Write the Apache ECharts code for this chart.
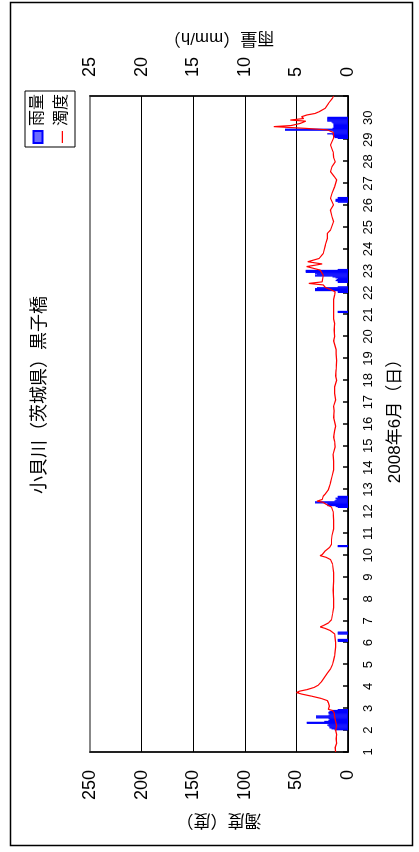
<!DOCTYPE html>
<html><head><meta charset="utf-8">
<script src="https://cdn.jsdelivr.net/npm/echarts@6.0.0/dist/echarts.min.js"></script>
<style>
html,body{margin:0;padding:0;background:#fff;overflow:hidden;width:419px;height:852px}
#wrap{position:absolute;left:0;top:0;width:852px;height:419px;transform-origin:0 0;transform:translateY(852px) rotate(-90deg);}
</style></head><body><div id="wrap"></div>
<script>
// ---- data ----
const titleText = '小貝川（茨城県）黒子橋';
const xName = '2008年6月（日）';
const leftName = '濁度（度）';
const rightName = '雨量（mm/h）';
const dayTicks = [1,2,3,4,5,6,7,8,9,10,11,12,13,14,15,16,17,18,19,20,21,22,23,24,25,26,27,28,29,30];

// rainfall: hour index counted from 2008-06-01 00:00, value mm/h
const rainHour = [24,25,26,27,28,29,30,31,32,33,34,35,36,37,38,39,40,41,42,43,44,45,46,
  121,122,123,129,130,131,
  225,226,
  268,269,270,271,272,273,274,275,276,277,278,279,280,
  482,483,
  504,505,506,507,508,509,510,515,516,517,518,519,520,521,522,523,524,525,526,527,528,529,
  603,604,605,606,607,608,
  673,674,675,676,677,678,679,680,681,682,683,684,685,686,687,688,689,690,691,692,693,694,695,696];
const rainValue = [1.3,1.6,1.8,1.8,1.9,2.0,1.9,4.0,4.0,2.3,1.9,1.8,1.9,3.1,3.1,3.1,1.9,1.8,1.9,1.9,1.8,1.5,1.0,
  1.0,1.0,1.0,1.0,1.0,1.0,
  1.0,1.0,
  1.0,1.2,2.0,2.0,2.0,3.2,3.2,1.3,1.2,1.1,1.2,1.0,1.0,
  1.0,1.0,
  1.0,1.0,3.2,3.2,3.2,3.0,1.0,1.0,1.0,1.2,1.1,1.0,1.2,1.5,3.2,3.2,3.0,3.2,4.1,4.1,4.1,1.0,
  1.0,1.2,1.2,1.2,1.0,1.0,
  1.0,1.3,1.4,1.4,1.5,2.0,1.4,1.4,1.5,6.1,6.1,1.5,1.4,1.4,1.4,1.4,1.4,1.5,1.6,2.0,2.0,2.0,2.0,2.0];

// turbidity: time in days (1.0 = 6/1 00:00), value in 度
const turbDay = [1.0,1.2,1.4,1.6,1.8,2.0,2.2,2.4,2.6,2.8,2.9,2.95,3.1,3.25,3.35,3.45,3.55,3.65,3.72,3.78,3.85,3.95,4.05,4.2,4.4,4.6,4.8,5.0,5.2,5.4,5.6,5.8,6.0,6.2,6.4,6.55,6.65,6.72,6.78,6.9,7.05,7.3,7.6,8.0,8.4,8.8,9.2,9.6,9.8,9.9,9.98,10.03,10.08,10.12,10.2,10.35,10.5,10.7,10.9,11.2,11.6,12.0,12.2,12.35,12.42,12.47,12.55,12.62,12.7,12.8,13.0,13.3,13.6,13.9,14.3,14.6,14.95,15.2,15.4,15.7,15.9,16.3,16.6,16.8,17.1,17.4,17.7,18.0,18.2,18.5,18.9,19.2,19.4,19.8,20.0,20.3,20.6,20.8,21.0,21.2,21.5,21.7,21.9,22.05,22.15,22.25,22.36,22.43,22.5,22.58,22.8,23.04,23.2,23.27,23.32,23.42,23.57,23.8,24.18,24.49,24.72,24.87,25.25,25.48,25.79,26.02,26.32,26.55,26.85,27.16,27.3,27.54,27.77,27.99,28.2,28.45,28.76,29.07,29.2,29.34,29.45,29.52,29.6,29.65,29.75,29.85,29.9,29.97,30.05,30.13,30.2,30.28,30.44,30.66,30.9,31.0];
const turbValue = [12,12.5,11,11.5,11,12,11,12,13,13.5,15,19,18,19,20,26,35,45,50,47,40,33,29,26,23,20,17,15,14,13,12.5,12,12,12.5,13,17,22,27,24,19,16,15,14,14,14.5,14,14,15,17,21,27,25,24,25,22,18,16,16,15.5,14,14,14.5,16,22,24,30,25,26,24,22,19,17,15.5,14,14,14.5,12.5,13,14,13,12,14,13.5,14,12,13,13,11,12,11.5,11,11.5,11.5,14,13,13.5,13,14,14,14,14,14,13,12.5,17,22,24,38,25,26,24,27,40,31,25,39,28,24,22,20,20,17,14,15.5,17,14,17,15.5,13,11,13,17,15.5,12.3,14,14.5,17,14,14,14.5,20,41,72,55,46,41,56,43,45,40,32,28,22,19,15,14];

// ---- build ----
const FONT = "'Liberation Sans', 'Noto Sans CJK JP', sans-serif";
const rainData = rainHour.map((h, i) => [1 + (h + 0.5) / 24, rainValue[i]]);
const turbData = turbDay.map((d, i) => [d, turbValue[i]]);

const chart = echarts.init(document.getElementById('wrap'), null, {renderer: 'canvas', width: 852, height: 419});
chart.setOption({
  animation: false,
  backgroundColor: '#fff',
  textStyle: {fontFamily: FONT, color: '#000'},
  title: {
    text: titleText, left: 452, top: 26, textAlign: 'center',
    textStyle: {fontSize: 18, fontWeight: 'normal', color: '#000', fontFamily: FONT}
  },
  legend: {
    orient: 'vertical', left: 705, top: 25, padding: [5, 3, 5, 3], itemGap: 8,
    itemWidth: 12, itemHeight: 9, borderColor: '#000', borderWidth: 1,
    textStyle: {fontSize: 16, color: '#000', fontFamily: FONT},
    data: [
      {name: '雨量', icon: 'rect', itemStyle: {color: '#6b6bff', borderColor: '#0000ff', borderWidth: 2}},
      {name: '濁度', icon: 'path://M0,0H12V0.02H0Z M0,4.2H12V5.4H0Z M0,9H12V9.02H0Z', itemStyle: {color: '#ff0000'}}
    ]
  },
  grid: {left: 100, right: 96, top: 90, bottom: 71, show: true, borderColor: '#888', borderWidth: 2, backgroundColor: 'transparent'},
  xAxis: {
    type: 'value', min: 1, max: 31, interval: 1,
    name: xName, nameLocation: 'middle', nameGap: 39,
    nameTextStyle: {fontSize: 17, color: '#000', fontFamily: FONT, padding: [0, 0, 0, 14]},
    axisLine: {lineStyle: {color: '#000', width: 1.5}},
    axisTick: {inside: true, length: 5, lineStyle: {color: '#000', width: 1.5}},
    axisLabel: {fontSize: 13, margin: 14, color: '#000', fontFamily: FONT,
      formatter: v => dayTicks.indexOf(v) >= 0 ? String(v) : ''},
    splitLine: {show: false}
  },
  yAxis: [
    {
      type: 'value', min: 0, max: 250, interval: 50, position: 'left',
      name: leftName, nameLocation: 'middle', nameRotate: 90, nameGap: 51,
      nameTextStyle: {fontSize: 17, color: '#000', fontFamily: FONT},
      axisLine: {show: true, lineStyle: {color: '#000', width: 1.5}},
      axisTick: {show: false},
      axisLabel: {fontSize: 18, margin: 18, color: '#000', fontFamily: FONT},
      splitLine: {show: true, lineStyle: {color: ['#000', '#000', '#000', '#000', '#000', '#888'], width: 1.2}}
    },
    {
      type: 'value', min: 0, max: 25, interval: 5, position: 'right',
      name: rightName, nameLocation: 'middle', nameRotate: 90, nameGap: 48,
      nameTextStyle: {fontSize: 17, color: '#000', fontFamily: FONT},
      axisLine: {show: true, lineStyle: {color: '#000', width: 1.5}},
      axisTick: {show: false},
      axisLabel: {fontSize: 18, margin: 19, color: '#000', fontFamily: FONT},
      splitLine: {show: false}
    }
  ],
  graphic: [{
    type: 'rect', left: 4, top: 8, silent: true,
    shape: {width: 843, height: 402},
    style: {fill: 'none', stroke: '#000', lineWidth: 1.5}
  }],
  series: [
    {name: '雨量', type: 'bar', yAxisIndex: 1, barWidth: 1.3, itemStyle: {color: '#0000ff'}, data: rainData},
    {name: '濁度', type: 'line', yAxisIndex: 0, symbol: 'none', lineStyle: {color: '#ff0000', width: 1.2}, itemStyle: {color: '#ff0000'}, data: turbData}
  ]
});
</script></body></html>
